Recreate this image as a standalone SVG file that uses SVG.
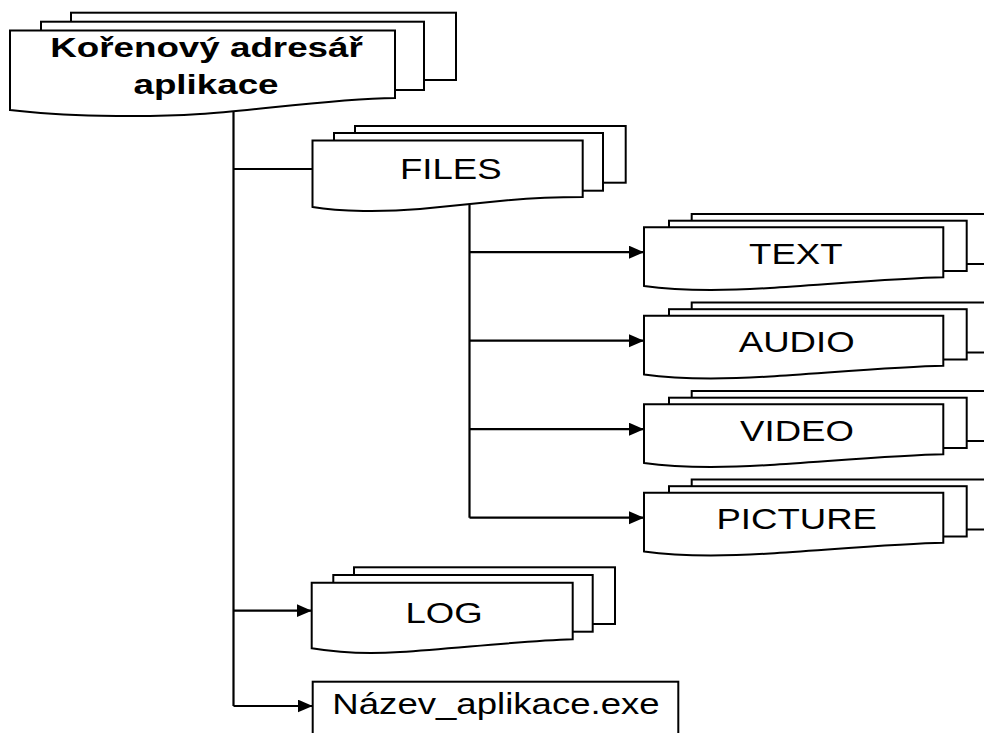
<svg xmlns="http://www.w3.org/2000/svg" xmlns:xlink="http://www.w3.org/1999/xlink" width="984" height="733" viewBox="0 0 984 733">
<style>
.sh{fill:#fff;stroke:#000;stroke-width:2;stroke-linejoin:miter}
.ln{fill:none;stroke:#000;stroke-width:2.2}
.t{font-family:"Liberation Sans",Arial,sans-serif;font-size:29.5px;fill:#000;text-anchor:middle}
.b{font-weight:bold;font-size:28.5px}
</style>
<defs>
<marker id="arr" markerUnits="userSpaceOnUse" markerWidth="16" markerHeight="14" refX="15" refY="6.5" orient="auto">
<path d="M0,0 L15,6.5 L0,13 z" fill="#000"/>
</marker>
<g id="leaf">
<rect class="sh" x="691.7" y="214" width="300" height="50"/>
<rect class="sh" x="669" y="220.7" width="297.7" height="50.3"/>
<path class="sh" d="M644,227.3 H943.3 V277.3 C900,278 820,285 770,288 C720,291 680,291 644,286 Z"/>
</g>
</defs>
<rect width="984" height="733" fill="#fff"/>
<g id="connectors">
<path class="ln" d="M233.5,111 V706"/>
<path class="ln" d="M233.5,169 H312.5"/>
<path class="ln" d="M233.5,610.7 H311.7" marker-end="url(#arr)"/>
<path class="ln" d="M233.5,706 H312.7" marker-end="url(#arr)"/>
<path class="ln" d="M469.5,205 V517.7"/>
<path class="ln" d="M469.5,252.2 H644" marker-end="url(#arr)"/>
<path class="ln" d="M469.5,340.7 H644" marker-end="url(#arr)"/>
<path class="ln" d="M469.5,429.2 H644" marker-end="url(#arr)"/>
<path class="ln" d="M469.5,517.7 H644" marker-end="url(#arr)"/>
</g>
<g id="root">
<rect class="sh" x="71" y="12.7" width="385" height="67.3"/>
<rect class="sh" x="41" y="21.7" width="383" height="68.3"/>
<path class="sh" d="M10,30.5 H395 V98 C330,99 260,110 200,114 C140,118 60,116 10,110 Z"/>
<text class="t b" transform="translate(206.5,57) scale(1.29,1)">Kořenový adresář</text>
<text class="t b" transform="translate(206,93.5) scale(1.29,1)">aplikace</text>
</g>
<g id="files">
<rect class="sh" x="355" y="126" width="270.7" height="56.7"/>
<rect class="sh" x="334" y="133" width="269" height="57.7"/>
<path class="sh" d="M312.5,140.5 H582.7 V197 C560,197 530,198 500,201 C460,205 420,209 420,209 C385,212 340,212 312.5,207 Z"/>
<text class="t" transform="translate(450.8,178.5) scale(1.24,1)">FILES</text>
</g>
<g id="text">
<use xlink:href="#leaf"/>
<text class="t" transform="translate(795.8,263.8) scale(1.24,1)">TEXT</text>
</g>
<g id="audio">
<use xlink:href="#leaf" transform="translate(0,88.5)"/>
<text class="t" transform="translate(796.7,352.2) scale(1.24,1)">AUDIO</text>
</g>
<g id="video">
<use xlink:href="#leaf" transform="translate(0,177)"/>
<text class="t" transform="translate(797,440.8) scale(1.24,1)">VIDEO</text>
</g>
<g id="picture">
<use xlink:href="#leaf" transform="translate(0,265.5)"/>
<text class="t" transform="translate(796.7,529.2) scale(1.24,1)">PICTURE</text>
</g>
<g id="log">
<rect class="sh" x="354" y="567.3" width="261" height="56.7"/>
<rect class="sh" x="333.3" y="575" width="259.4" height="56.7"/>
<path class="sh" d="M311.7,582.7 H572.7 V639.3 C520,641 460,648 400,652 C370,654 340,653 311.7,648.3 Z"/>
<text class="t" transform="translate(444,622.7) scale(1.24,1)">LOG</text>
</g>
<g id="exe">
<rect class="sh" x="312.7" y="681.7" width="365.6" height="60"/>
<text class="t" transform="translate(496,713.5) scale(1.24,1)">Název_aplikace.exe</text>
</g>
</svg>
